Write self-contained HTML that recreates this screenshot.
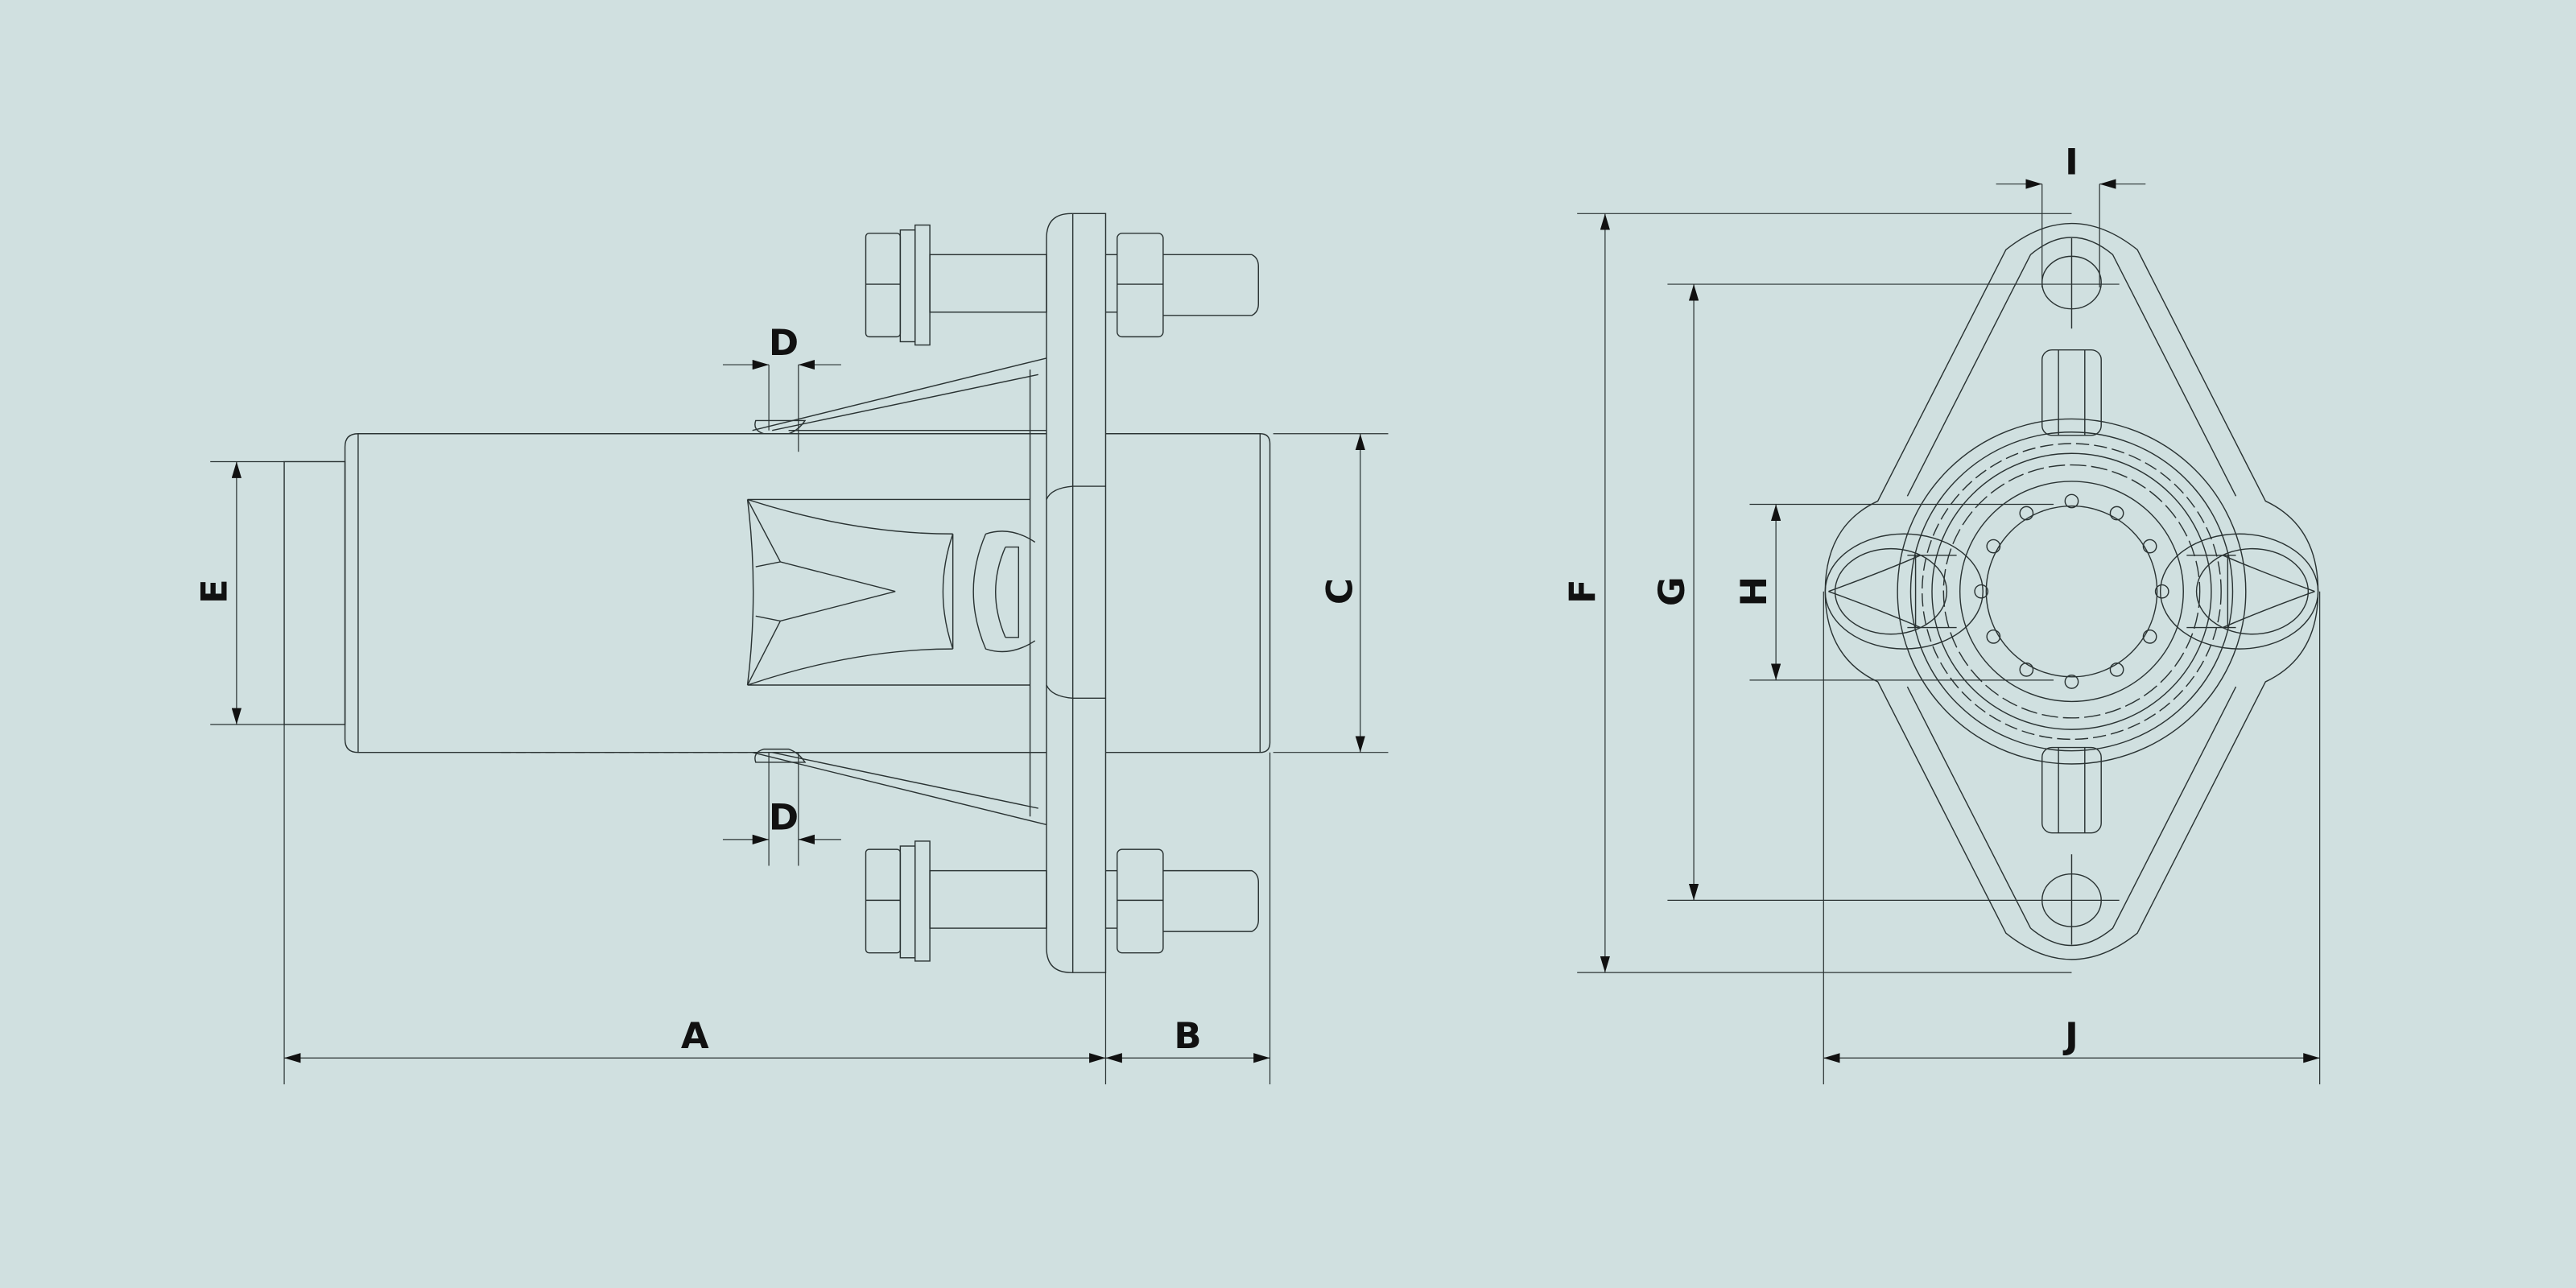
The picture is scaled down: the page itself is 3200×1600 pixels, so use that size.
<!DOCTYPE html>
<html><head><style>
html,body{margin:0;padding:0;background:#d0e0e0;}
svg{display:block}
text{font-family:"DejaVu Sans","Liberation Sans",sans-serif;font-weight:bold;font-size:22px;fill:#111;text-anchor:middle;}
</style></head><body>
<svg width="3200" height="1600" viewBox="0 0 1568 784" xmlns="http://www.w3.org/2000/svg">
<defs>
<marker id="ar" viewBox="0 0 10 6" refX="10" refY="3" markerWidth="10" markerHeight="6" markerUnits="userSpaceOnUse" orient="auto-start-reverse"><path d="M0,0 L10,3 L0,6z" fill="#111"/></marker>
</defs>
<rect width="1568" height="784" fill="#d0e0e0"/>
<g fill="none" stroke="#2a3333" stroke-width="0.7">
<rect x="173" y="281" width="37" height="160"/>
<path d="M637,264 H218 Q210,264 210,272 V450 Q210,458 218,458 H637"/>
<line x1="218" y1="264" x2="218" y2="458"/>
<path d="M673,264 H767 Q773,264 773,270 V452 Q773,458 767,458 H673"/>
<line x1="767" y1="264" x2="767" y2="458"/>
<path d="M673,130 H652 Q637,130 637,145 V577 Q637,592 652,592 H673 Z"/>
<line x1="653" y1="130" x2="653" y2="592"/>
<line x1="627" y1="225" x2="627" y2="497"/>
<path d="M637,304 Q640,297 653,296 H673 M637,417 Q640,424 653,425 H673"/>
<path d="M458,262 L637,218 M470,262 L632,228 M458,458 L637,502 M470,458 L632,492"/>
<path d="M460,256 Q458,262 465,264 H480 Q486,262 490,256 Z M460,464 Q458,458 465,456 H480 Q486,458 490,464 Z"/>
<path d="M480,262 H637 M480,458 H637"/>
<path d="M305,458 H458" stroke-dasharray="6,3"/>
<path d="M455,304 H627 M455,417 H627 M455,304 Q462,360 455,417 M455,304 Q520,325 580,325 M455,417 Q520,395 580,395 M460,345 L475,342 L545,360 M460,375 L475,378 L545,360 M455,304 L475,342 M455,417 L475,378"/>
<path d="M580,325 V395 M580,325 Q568,360 580,395"/>
<path d="M600,325 Q585,360 600,395 Q615,400 630,390 M600,325 Q615,320 630,330"/>
<path d="M612,333 Q600,360 612,388 M612,333 H620 V388 H612"/>
<g id="bolt">
<rect x="527" y="142" width="21" height="63" rx="2"/>
<line x1="527" y1="173" x2="548" y2="173"/>
<rect x="548" y="140" width="9" height="68"/>
<rect x="557" y="137" width="9" height="73"/>
<rect x="566" y="155" width="71" height="35"/>
<rect x="680" y="142" width="28" height="63" rx="3"/>
<line x1="680" y1="173" x2="708" y2="173"/>
<path d="M708,155 H762 Q766,157 766,162 V185 Q766,190 762,192 H708"/>
<line x1="673" y1="155" x2="680" y2="155"/><line x1="673" y1="190" x2="680" y2="190"/>
</g>
<use href="#bolt" transform="translate(0,375)"/>
<g transform="translate(1261,360)">
<path d="M-40,-208 Q0,-240 40,-208 L118,-55 Q150,-40 150,0 Q150,40 118,55 L40,208 Q0,240 -40,208 L-118,55 Q-150,40 -150,0 Q-150,-40 -118,-55 Z"/>
<path d="M-25,-205 Q0,-226 25,-205 L100,-58 M-25,-205 L-100,-58 M-25,205 Q0,226 25,205 L100,58 M-25,205 L-100,58"/>
<ellipse cx="0" cy="-188" rx="18" ry="16"/>
<ellipse cx="0" cy="188" rx="18" ry="16"/>
<line x1="0" y1="-215" x2="0" y2="-160"/><line x1="0" y1="160" x2="0" y2="215"/>
<ellipse cx="-102" cy="0" rx="48" ry="35"/>
<ellipse cx="102" cy="0" rx="48" ry="35"/>
<ellipse cx="-110" cy="0" rx="34" ry="26"/>
<ellipse cx="110" cy="0" rx="34" ry="26"/>
<path d="M-148,0 Q-115,-12 -92,-22 M-148,0 Q-115,12 -92,22 M148,0 Q115,-12 92,-22 M148,0 Q115,12 92,22"/>
<rect x="-18" y="-147" width="36" height="52" rx="6"/>
<path d="M-8,-147 V-95 M8,-147 V-95"/>
<rect x="-18" y="95" width="36" height="52" rx="6"/>
<path d="M-8,95 V147 M8,95 V147"/>
<ellipse cx="0" cy="0" rx="106" ry="105"/>
<ellipse cx="0" cy="0" rx="98" ry="97"/>
<ellipse cx="0" cy="0" rx="91" ry="90" stroke-dasharray="8,3"/>
<ellipse cx="0" cy="0" rx="85" ry="84"/>
<ellipse cx="0" cy="0" rx="78" ry="77" stroke-dasharray="10,3"/>
<ellipse cx="0" cy="0" rx="68" ry="67"/>
<circle cx="0" cy="0" r="52"/>
<g>
<circle cx="0" cy="-55" r="4"/><circle cx="0" cy="55" r="4"/><circle cx="-55" cy="0" r="4"/><circle cx="55" cy="0" r="4"/>
<circle cx="-27.5" cy="-47.6" r="4"/><circle cx="27.5" cy="-47.6" r="4"/><circle cx="-27.5" cy="47.6" r="4"/><circle cx="27.5" cy="47.6" r="4"/>
<circle cx="-47.6" cy="-27.5" r="4"/><circle cx="47.6" cy="-27.5" r="4"/><circle cx="-47.6" cy="27.5" r="4"/><circle cx="47.6" cy="27.5" r="4"/>
</g>
<path d="M-100,-22 H-70 M-100,22 H-70 M100,-22 H70 M100,22 H70 M-95,-22 V22 M95,-22 V22"/>
</g>
</g>
<g fill="none" stroke="#2a3333" stroke-width="0.6">
<line x1="173" y1="441" x2="173" y2="660"/>
<line x1="673" y1="592" x2="673" y2="660"/>
<line x1="773" y1="458" x2="773" y2="660"/>
<line x1="173" y1="644" x2="673" y2="644" marker-start="url(#ar)" marker-end="url(#ar)"/>
<line x1="673" y1="644" x2="773" y2="644" marker-start="url(#ar)" marker-end="url(#ar)"/>
<line x1="775" y1="264" x2="845" y2="264"/><line x1="775" y1="458" x2="845" y2="458"/>
<line x1="828" y1="264" x2="828" y2="458" marker-start="url(#ar)" marker-end="url(#ar)"/>
<line x1="128" y1="281" x2="173" y2="281"/><line x1="128" y1="441" x2="173" y2="441"/>
<line x1="144" y1="281" x2="144" y2="441" marker-start="url(#ar)" marker-end="url(#ar)"/>
<line x1="468" y1="222" x2="468" y2="262"/><line x1="486" y1="222" x2="486" y2="275"/>
<line x1="440" y1="222" x2="468" y2="222" marker-end="url(#ar)"/><line x1="512" y1="222" x2="486" y2="222" marker-end="url(#ar)"/>
<line x1="468" y1="458" x2="468" y2="527"/><line x1="486" y1="458" x2="486" y2="527"/>
<line x1="440" y1="511" x2="468" y2="511" marker-end="url(#ar)"/><line x1="512" y1="511" x2="486" y2="511" marker-end="url(#ar)"/>
<line x1="960" y1="130" x2="1261" y2="130"/><line x1="960" y1="592" x2="1261" y2="592"/>
<line x1="977" y1="130" x2="977" y2="592" marker-start="url(#ar)" marker-end="url(#ar)"/>
<line x1="1015" y1="173" x2="1290" y2="173"/><line x1="1015" y1="548" x2="1290" y2="548"/>
<line x1="1031" y1="173" x2="1031" y2="548" marker-start="url(#ar)" marker-end="url(#ar)"/>
<line x1="1065" y1="307" x2="1250" y2="307"/><line x1="1065" y1="414" x2="1250" y2="414"/>
<line x1="1081" y1="307" x2="1081" y2="414" marker-start="url(#ar)" marker-end="url(#ar)"/>
<line x1="1243" y1="112" x2="1243" y2="175"/><line x1="1278" y1="112" x2="1278" y2="175"/>
<line x1="1215" y1="112" x2="1243" y2="112" marker-end="url(#ar)"/><line x1="1306" y1="112" x2="1278" y2="112" marker-end="url(#ar)"/>
<line x1="1110" y1="360" x2="1110" y2="660"/><line x1="1412" y1="360" x2="1412" y2="660"/>
<line x1="1110" y1="644" x2="1412" y2="644" marker-start="url(#ar)" marker-end="url(#ar)"/>
</g>
<text x="423" y="638">A</text>
<text x="723" y="638">B</text>
<text x="477" y="216">D</text>
<text x="477" y="505">D</text>
<text x="1261" y="106">I</text>
<text x="1261" y="638">J</text>
<text transform="translate(823,360) rotate(-90)">C</text>
<text transform="translate(138,360) rotate(-90)">E</text>
<text transform="translate(971,360) rotate(-90)">F</text>
<text transform="translate(1025,360) rotate(-90)">G</text>
<text transform="translate(1075,360) rotate(-90)">H</text>
</svg>
</body></html>
